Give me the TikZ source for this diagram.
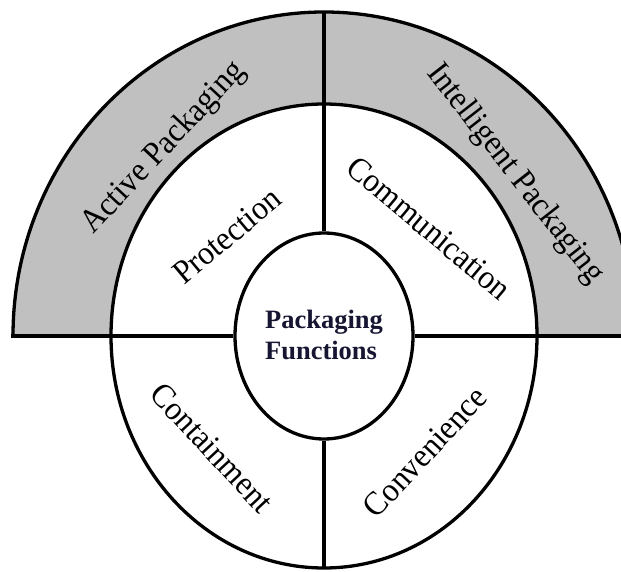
\documentclass[tikz,border=0pt]{standalone}
\usepackage{fontspec}
\setmainfont{Liberation Serif}
\newfontfamily\lblfont[FakeStretch=0.94]{Liberation Serif}
\usetikzlibrary{shapes.geometric}
\definecolor{ringgray}{RGB}{192,192,192}
\definecolor{hubtext}{RGB}{22,22,50}
\begin{document}
\begin{tikzpicture}[x=1pt,y=1pt,
  ring/.style={line width=3.3pt},
  lbl/.style={font=\lblfont\fontsize{33.5}{38}\selectfont, inner sep=0pt, text=black},
  hub/.style={ellipse, draw, line width=3.3pt, fill=white, inner sep=0pt,
    minimum width=178pt, minimum height=206pt, text=hubtext,
    font=\bfseries\fontsize{26.5}{31}\selectfont, align=left}
]
\useasboundingbox (0,0) rectangle (621,571);
\begin{scope}
  \clip (0,0) rectangle (621,571);
  \fill[ringgray] (13,235) arc[start angle=180,end angle=0,x radius=311,y radius=324]
    -- (537,235) arc[start angle=0,end angle=180,x radius=213,y radius=232] -- cycle;
  \draw[ring] (13,235) arc[start angle=180,end angle=0,x radius=311,y radius=324];
  \draw[ring] (324,235) ellipse[x radius=213,y radius=232];
\end{scope}
\coordinate (top) at (324,559);
\coordinate (bot) at (324,2);
\coordinate (lft) at (11.35,235);
\coordinate (rgt) at (625,235);
\node[hub] (hubnode) at (324,235) {\raisebox{3pt}{Packaging}\\\raisebox{3pt}{Functions}};
\draw[ring] (top) -- (hubnode.north);
\draw[ring] (hubnode.south) -- (bot);
\draw[ring] (lft) -- (hubnode.west);
\draw[ring] (hubnode.east) -- (rgt);
\node[lbl, rotate=47] (active) at (164,423) {Active Packaging};
\node[lbl, rotate=-52] (intel) at (515,397) {Intelligent Packaging};
\node[lbl, rotate=40] (prot) at (227,335) {Protection};
\node[lbl, rotate=-40] (comm) at (429,343) {Communication};
\node[lbl, rotate=-47] (cont) at (212,123) {Containment};
\node[lbl, rotate=47] (conv) at (425,119) {Convenience};
\end{tikzpicture}
\end{document}
